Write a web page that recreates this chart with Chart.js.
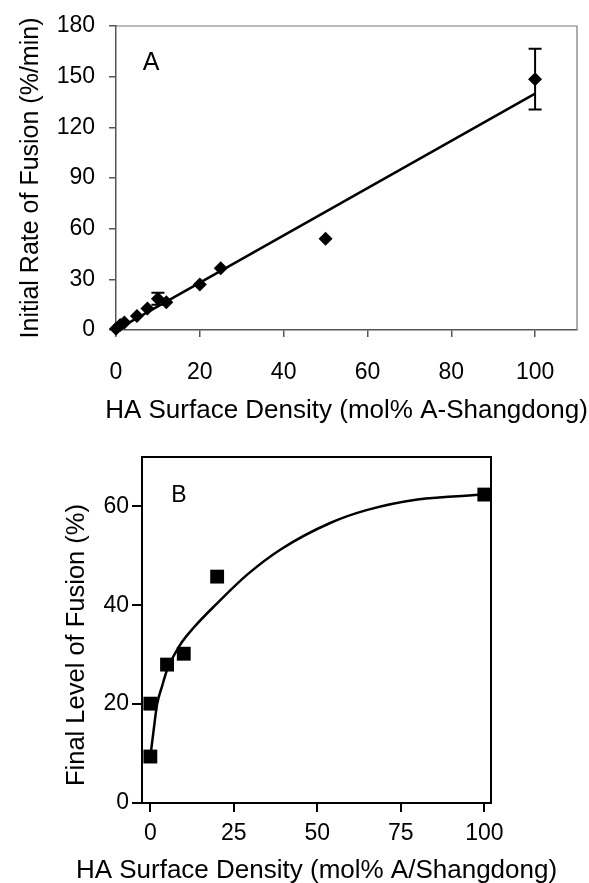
<!DOCTYPE html>
<html><head><meta charset="utf-8">
<script src="https://cdn.jsdelivr.net/npm/chart.js@4.4.0/dist/chart.umd.min.js"></script>
<style>
html,body{margin:0;padding:0;background:#fff;overflow:hidden;width:589px;height:883px;}
#wa{position:absolute;left:0;top:0;width:589px;height:440px;}
#wb{position:absolute;left:0;top:440px;width:589px;height:450px;}
</style></head><body>
<div id="wa"><canvas id="ca" width="589" height="440"></canvas></div>
<div id="wb"><canvas id="cb" width="589" height="450"></canvas></div>
<script>
// ---------- Panel A data ----------
const densityA = [0, 1, 2, 5, 7.5, 10, 12, 20, 25, 50, 100];
const rateA    = [0.8, 3, 4.5, 8.3, 12.8, 18.5, 16.5, 27, 36.5, 54, 148.5];
const rateErrA = [0, 0, 0, 0, 0, 3.5, 0, 0, 0, 0, 18];
const fitXA = [0, 100];
const fitYA = [0, 140];
const xTicksA = [0, 20, 40, 60, 80, 100];
const yTicksA = [0, 30, 60, 90, 120, 150, 180];
const xTitleA = 'HA Surface Density (mol% A-Shangdong)';
const yTitleA = 'Initial Rate of Fusion (%/min)';

// ---------- Panel B data ----------
const densityB = [0, 0, 5, 10, 20, 100];
const levelB   = [9.4, 20.1, 28, 30.2, 45.8, 62.4];
const fitXB = [0.2, 1, 2, 3.5, 5, 9, 13, 20, 29, 39, 54, 65, 80, 100];
const fitYB = [10.5, 14.8, 19.9, 23.6, 26.9, 32.1, 35.5, 40.4, 46.2, 51.3, 56.7, 59.3, 61.4, 62.4];
const xTicksB = [0, 25, 50, 75, 100];
const yTicksB = [0, 20, 40, 60];
const xTitleB = 'HA Surface Density (mol% A/Shangdong)';
const yTitleB = 'Final Level of Fusion (%)';

const FAM = '"Liberation Sans", Arial, Helvetica, sans-serif';
const pts = (xs, ys) => xs.map((x, i) => ({x: x, y: ys[i]}));
const setTicks = arr => s => { s.ticks = arr.map(v => ({value: v})); };

const boxPlugin = {
  id: 'box',
  afterDatasetsDraw(chart, args, opts) {
    const a = chart.chartArea, c = chart.ctx;
    c.save();
    c.strokeStyle = opts.color; c.lineWidth = opts.width;
    c.beginPath();
    c.moveTo(a.left, a.top); c.lineTo(a.right, a.top); c.lineTo(a.right, a.bottom);
    c.stroke();
    c.restore();
  }
};
const errPlugin = {
  id: 'errbars',
  afterDatasetsDraw(chart, args, opts) {
    if (!opts.errors) return;
    const meta = chart.getDatasetMeta(opts.dataset);
    const ds = chart.data.datasets[opts.dataset].data;
    const ys = chart.scales.y, c = chart.ctx;
    c.save(); c.strokeStyle = '#000'; c.lineWidth = 2;
    meta.data.forEach((el, i) => {
      const e = opts.errors[i];
      if (!e) return;
      const x = el.x;
      const t = ys.getPixelForValue(ds[i].y + e), b = ys.getPixelForValue(ds[i].y - e);
      c.beginPath();
      c.moveTo(x, t); c.lineTo(x, b);
      c.moveTo(x - 6.5, t); c.lineTo(x + 6.5, t);
      c.moveTo(x - 6.5, b); c.lineTo(x + 6.5, b);
      c.stroke();
    });
    c.restore();
  }
};
// panel letter and axis titles, placed relative to the chart area
const textPlugin = {
  id: 'texts',
  afterDraw(chart, args, opts) {
    const a = chart.chartArea, c = chart.ctx;
    const cx = (a.left + a.right) / 2, cy = (a.top + a.bottom) / 2;
    c.save(); c.fillStyle = '#000';
    c.textAlign = 'center'; c.textBaseline = 'middle';
    // panel letter
    c.font = opts.letterSize + 'px ' + FAM;
    c.fillText(opts.letter, a.left + opts.letterDx, a.top + opts.letterDy);
    // x title
    c.font = opts.xSize + 'px ' + FAM;
    c.fillText(opts.xTitle, cx, a.bottom + opts.xDy);
    // y title
    c.save();
    c.translate(a.left - opts.yDx, cy + opts.yDy);
    c.rotate(-Math.PI / 2);
    c.font = opts.ySize + 'px ' + FAM;
    c.fillText(opts.yTitle, 0, 0);
    c.restore();
    c.restore();
  }
};

function axis(o) {
  return {
    type: 'linear', min: o.min, max: o.max,
    afterBuildTicks: setTicks(o.ticks),
    afterFit: s => {
      if (o.w !== undefined) s.width = o.w;
      if (o.h !== undefined) s.height = o.h;
      s.paddingTop = 0; s.paddingBottom = 0; s.paddingLeft = 0; s.paddingRight = 0;
    },
    grid: {display: true, drawOnChartArea: false, drawTicks: true, tickLength: o.tl, color: o.color, lineWidth: o.lw},
    border: {display: true, color: o.color, width: o.lw},
    ticks: {font: {family: FAM, size: o.fs}, color: '#000', padding: o.pad, maxRotation: 0, autoSkip: false},
    title: {display: false}
  };
}

new Chart(document.getElementById('ca'), {
  type: 'scatter',
  data: {datasets: [
    {data: pts(densityA, rateA), pointStyle: 'rectRot', pointRadius: 7, pointBackgroundColor: '#000', pointBorderColor: '#000', pointBorderWidth: 0, showLine: false, clip: false, order: 0},
    {data: pts(fitXA, fitYA), showLine: true, pointRadius: 0, borderColor: '#000', borderWidth: 2.5, order: 1}
  ]},
  options: {
    responsive: false, animation: false, devicePixelRatio: 1,
    layout: {padding: {top: 26, right: 12, bottom: 0, left: 0}},
    plugins: {legend: {display: false}, tooltip: {enabled: false},
      box: {color: '#777', width: 1.2},
      errbars: {dataset: 0, errors: rateErrA},
      texts: {letter: 'A', letterSize: 25, letterDx: 35, letterDy: 37,
        xTitle: xTitleA, xSize: 26, xDy: 80.5,
        yTitle: yTitleA, ySize: 25, yDx: 85, yDy: 0}},
    scales: {
      x: axis({min: 0, max: 110, ticks: xTicksA, h: 110, tl: 7, color: '#555', lw: 1.5, fs: 23, pad: 21.5}),
      y: axis({min: 0, max: 180, ticks: yTicksA, w: 116, tl: 7, color: '#555', lw: 1.5, fs: 23, pad: 14})
    }
  },
  plugins: [boxPlugin, errPlugin, textPlugin]
});

new Chart(document.getElementById('cb'), {
  type: 'scatter',
  data: {datasets: [
    {data: pts(densityB, levelB), pointStyle: 'rect', pointRadius: 9.8, pointBackgroundColor: '#000', pointBorderColor: '#000', pointBorderWidth: 0, showLine: false, clip: false, order: 0},
    {data: pts(fitXB, fitYB), showLine: true, pointRadius: 0, borderColor: '#000', borderWidth: 2.5, cubicInterpolationMode: 'monotone', order: 1}
  ]},
  options: {
    responsive: false, animation: false, devicePixelRatio: 1,
    layout: {padding: {top: 17, right: 98, bottom: 0, left: 0}},
    plugins: {legend: {display: false}, tooltip: {enabled: false},
      box: {color: '#000', width: 2},
      texts: {letter: 'B', letterSize: 23, letterDx: 37, letterDy: 39,
        xTitle: xTitleB, xSize: 26, xDy: 68,
        yTitle: yTitleB, ySize: 25.5, yDx: 65, yDy: 15}},
    scales: {
      x: axis({min: -2.5, max: 102, ticks: xTicksB, h: 87, tl: 9, color: '#000', lw: 2, fs: 23, pad: 8}),
      y: axis({min: 0, max: 70, ticks: yTicksB, w: 142, tl: 10, color: '#000', lw: 2, fs: 23, pad: 3})
    }
  },
  plugins: [boxPlugin, textPlugin]
});
</script>
</body></html>
